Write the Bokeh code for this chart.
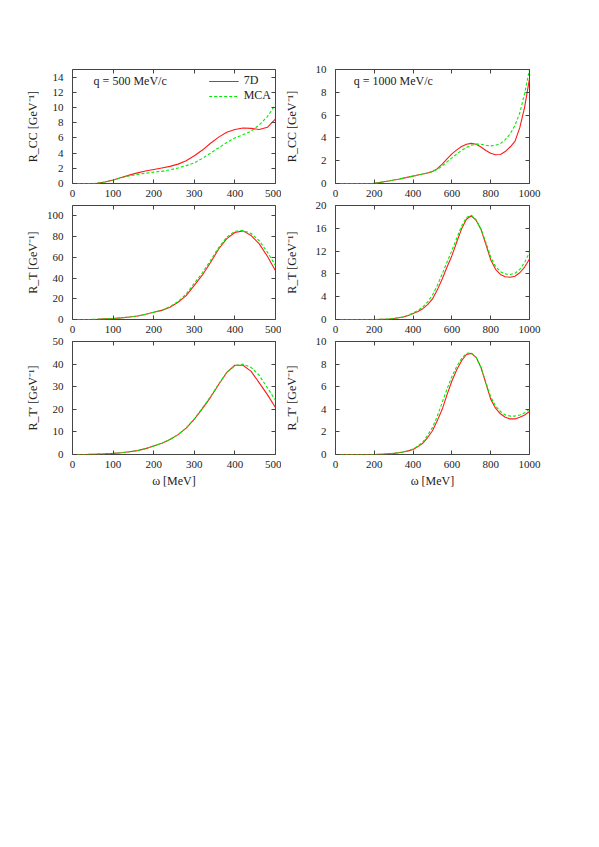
from bokeh.plotting import figure
from bokeh.layouts import column, row
from bokeh.models import (Range1d, SingleIntervalTicker, LinearAxis, Label,
                          Legend, LegendItem)
from bokeh.embed import file_html
from bokeh.resources import INLINE

# ---------------- data ----------------
omega_500 = [0, 20, 40, 60, 80, 100, 120, 140, 160, 180, 200, 220, 240, 260,
             280, 300, 320, 340, 360, 380, 400, 420, 440, 460, 480, 500]
omega_1000 = [0, 25, 50, 75, 100, 125, 150, 175, 200, 225, 250, 275, 300, 325,
              350, 375, 400, 425, 450, 475, 500, 525, 550, 575, 600, 625, 650,
              675, 700, 725, 750, 775, 800, 825, 850, 875, 900, 925, 950, 975,
              1000]

# R_CC, q = 500 MeV/c
rcc_500_7d = [0, 0, 0, 0.02, 0.2, 0.45, 0.8, 1.1, 1.4, 1.65, 1.85, 2.05, 2.25,
              2.55, 3.0, 3.65, 4.4, 5.3, 6.1, 6.75, 7.1, 7.3, 7.25, 7.1, 7.4, 8.5]
rcc_500_mca = [0, 0, 0, 0.02, 0.2, 0.45, 0.75, 1.0, 1.2, 1.35, 1.5, 1.6, 1.8,
               2.05, 2.35, 2.7, 3.3, 4.0, 4.7, 5.4, 6.0, 6.4, 6.9, 7.7, 8.8, 10.4]

# R_CC, q = 1000 MeV/c
rcc_1000_7d = [0, 0, 0, 0, 0, 0, 0, 0, 0.02, 0.08, 0.15, 0.22, 0.3, 0.38,
               0.47, 0.56, 0.65, 0.74, 0.83, 0.92, 1.05, 1.3, 1.7, 2.15, 2.6,
               2.95, 3.25, 3.45, 3.52, 3.45, 3.2, 2.9, 2.65, 2.52, 2.55, 2.8,
               3.2, 3.7, 4.9, 6.7, 9.2]
rcc_1000_mca = [0, 0, 0, 0, 0, 0, 0, 0, 0.02, 0.08, 0.15, 0.22, 0.3, 0.38,
                0.47, 0.56, 0.65, 0.74, 0.83, 0.93, 1.05, 1.25, 1.55, 1.9,
                2.25, 2.6, 2.9, 3.15, 3.35, 3.45, 3.45, 3.35, 3.3, 3.35, 3.5,
                3.85, 4.35, 5.1, 6.2, 7.9, 10.0]

# R_T, q = 500 MeV/c
rt_500_7d = [0, 0, 0, 0.2, 0.6, 1.0, 1.6, 2.4, 3.4, 5.0, 7.0, 8.8, 11.8, 16.6,
             23, 33, 43, 55, 68, 78, 84, 85.5, 81, 73, 61, 47]
rt_500_mca = [0, 0, 0, 0.2, 0.6, 1.0, 1.6, 2.4, 3.4, 5.0, 7.0, 9.0, 12.3, 17.4,
              24.5, 35, 45, 57, 69.5, 79.5, 85, 86, 83, 76, 65, 52]

# R_T, q = 1000 MeV/c
rt_1000_7d = [0, 0, 0, 0, 0, 0, 0, 0, 0, 0.02, 0.05, 0.1, 0.18, 0.3, 0.45,
              0.7, 1.05, 1.4, 1.9, 2.6, 3.6, 5.2, 7.1, 9.2, 11.2, 13.6, 15.9,
              17.6, 18.2, 17.4, 15.8, 13.2, 10.5, 8.8, 7.9, 7.5, 7.4, 7.6, 8.2,
              9.2, 10.6]
rt_1000_mca = [0, 0, 0, 0, 0, 0, 0, 0, 0, 0.02, 0.05, 0.1, 0.18, 0.3, 0.47,
               0.75, 1.15, 1.6, 2.2, 3.1, 4.3, 6.0, 8.0, 10.1, 12.1, 14.3,
               16.4, 17.9, 18.3, 17.5, 15.9, 13.5, 11.0, 9.3, 8.4, 8.0, 7.9,
               8.1, 8.8, 10.0, 11.8]

# R_T', q = 500 MeV/c
rtp_500_7d = [0, 0, 0.05, 0.15, 0.3, 0.5, 0.8, 1.2, 1.7, 2.6, 3.8, 5.0, 6.6,
              8.8, 11.7, 15.6, 20.3, 25.3, 31, 36.3, 39.5, 39.5, 36.8, 31.7,
              26.5, 20.8]
rtp_500_mca = [0, 0, 0.05, 0.15, 0.3, 0.5, 0.8, 1.2, 1.7, 2.6, 3.8, 5.0, 6.6,
               8.8, 11.7, 15.8, 20.6, 25.6, 31.2, 36.3, 39.3, 40.0, 38.5, 35,
               29.5, 24]

# R_T', q = 1000 MeV/c
rtp_1000_7d = [0, 0, 0, 0, 0, 0, 0, 0, 0, 0.02, 0.04, 0.07, 0.1, 0.15, 0.22,
               0.32, 0.45, 0.7, 1.0, 1.5, 2.1, 3.0, 4.0, 5.3, 6.5, 7.5, 8.3,
               8.85, 8.95, 8.6, 7.7, 6.3, 4.9, 4.1, 3.6, 3.3, 3.15, 3.15, 3.3,
               3.5, 3.8]
rtp_1000_mca = [0, 0, 0, 0, 0, 0, 0, 0, 0, 0.02, 0.04, 0.07, 0.1, 0.15, 0.23,
                0.34, 0.5, 0.75, 1.1, 1.7, 2.4, 3.4, 4.6, 5.8, 6.9, 7.8, 8.5,
                8.95, 9.0, 8.6, 7.7, 6.4, 5.1, 4.3, 3.8, 3.5, 3.4, 3.4, 3.5,
                3.7, 4.0]

x_ticks_500 = 100
x_ticks_1000 = 200
y_labels = ["R_CC [GeV⁻¹]", "R_T [GeV⁻¹]", "R_T′ [GeV⁻¹]"]
q_labels = ["q = 500 MeV/c", "q = 1000 MeV/c"]
series_names = ["7D", "MCA"]

FONT = "Liberation Serif"
RED = "#ff1a1a"
GREEN = "#00ee00"
TXT = "#222222"


def make_panel(omega, red, green, xmax, xint, ymax, yint, ylabel,
               left_col, row_idx):
    if left_col:
        bl, br = 72, 6
        w = bl + 203 + br
    else:
        bl, br = 46, 24
        w = bl + 202 + br
    if row_idx == 0:
        bt, bb = 69, 16
        h = bt + 114 + bb
    elif row_idx == 1:
        bt, bb = 6, 15
        h = bt + 115 + bb
    else:
        bt, bb = 6, 34
        h = bt + 115 + bb
    p = figure(width=w, height=h, output_backend="svg", toolbar_location=None,
               x_range=Range1d(0, xmax), y_range=Range1d(0, ymax),
               min_border_left=bl, min_border_right=br,
               min_border_top=bt, min_border_bottom=bb,
               background_fill_color="white", border_fill_color="white")
    p.outline_line_color = "#444444"
    p.outline_line_width = 1
    p.xgrid.visible = False
    p.ygrid.visible = False

    xax = p.below[0]
    yax = p.left[0]
    xax.ticker = SingleIntervalTicker(interval=xint)
    yax.ticker = SingleIntervalTicker(interval=yint)
    for ax in (xax, yax):
        ax.axis_line_color = None
        ax.major_tick_in = 4
        ax.major_tick_out = 0
        ax.major_tick_line_color = "#444444"
        ax.minor_tick_line_color = None
        ax.major_label_text_font = FONT
        ax.major_label_text_font_size = "11px"
        ax.major_label_text_color = TXT
    xax.major_label_standoff = 2
    yax.major_label_standoff = 5

    yax.axis_label = ylabel
    yax.axis_label_text_font = FONT
    yax.axis_label_text_font_size = "12px"
    yax.axis_label_text_font_style = "normal"
    yax.axis_label_text_color = TXT
    if left_col:
        yax.axis_label_standoff = 4 if ymax >= 100 else 10
    else:
        yax.axis_label_standoff = 14

    if row_idx == 2:
        xax.axis_label = "ω [MeV]"
        xax.axis_label_text_font = FONT
        xax.axis_label_text_font_size = "12px"
        xax.axis_label_text_font_style = "normal"
        xax.axis_label_text_color = TXT
        xax.axis_label_standoff = 3

    # mirrored ticks on top and right
    top = LinearAxis(ticker=SingleIntervalTicker(interval=xint),
                     axis_line_color=None, major_tick_in=4, major_tick_out=0,
                     major_tick_line_color="#444444",
                     minor_tick_line_color=None,
                     major_label_text_font_size="1px",
                     major_label_text_alpha=0, major_label_standoff=0)
    right = LinearAxis(ticker=SingleIntervalTicker(interval=yint),
                       axis_line_color=None, major_tick_in=4, major_tick_out=0,
                       major_tick_line_color="#444444",
                       minor_tick_line_color=None,
                       major_label_text_font_size="1px",
                       major_label_text_alpha=0, major_label_standoff=0)
    p.add_layout(top, "above")
    p.add_layout(right, "right")

    r1 = p.line(omega, red, line_color=RED, line_width=1.1)
    r2 = p.line(omega, green, line_color=GREEN, line_width=1.1,
                line_dash="3 2")
    return p, r1, r2


pA, a1, a2 = make_panel(omega_500, rcc_500_7d, rcc_500_mca, 500, x_ticks_500,
                        15, 2, y_labels[0], True, 0)
pB, _, _ = make_panel(omega_1000, rcc_1000_7d, rcc_1000_mca, 1000,
                      x_ticks_1000, 10, 2, y_labels[0], False, 0)
pC, _, _ = make_panel(omega_500, rt_500_7d, rt_500_mca, 500, x_ticks_500,
                      110, 20, y_labels[1], True, 1)
pD, _, _ = make_panel(omega_1000, rt_1000_7d, rt_1000_mca, 1000, x_ticks_1000,
                      20, 4, y_labels[1], False, 1)
pE, _, _ = make_panel(omega_500, rtp_500_7d, rtp_500_mca, 500, x_ticks_500,
                      50, 10, y_labels[2], True, 2)
pF, _, _ = make_panel(omega_1000, rtp_1000_7d, rtp_1000_mca, 1000,
                      x_ticks_1000, 10, 2, y_labels[2], False, 2)

pA.add_layout(Label(x=52, y=13.5, text=q_labels[0], text_font=FONT,
                    text_font_size="12px", text_color=TXT,
                    text_baseline="middle"))
pB.add_layout(Label(x=94, y=9.0, text=q_labels[1], text_font=FONT,
                    text_font_size="12px", text_color=TXT,
                    text_baseline="middle"))

legend = Legend(items=[LegendItem(label=series_names[0], renderers=[a1]),
                       LegendItem(label=series_names[1], renderers=[a2])],
                location="top_right", background_fill_alpha=0,
                border_line_color=None, label_text_font=FONT,
                label_text_font_size="12px", label_text_color=TXT,
                glyph_width=30, glyph_height=8, label_height=8,
                spacing=-3, padding=2, margin=4, label_standoff=5)
pA.add_layout(legend)

layout = column(row(pA, pB), row(pC, pD), row(pE, pF))

open("out.html", "w").write(file_html(layout, INLINE))
